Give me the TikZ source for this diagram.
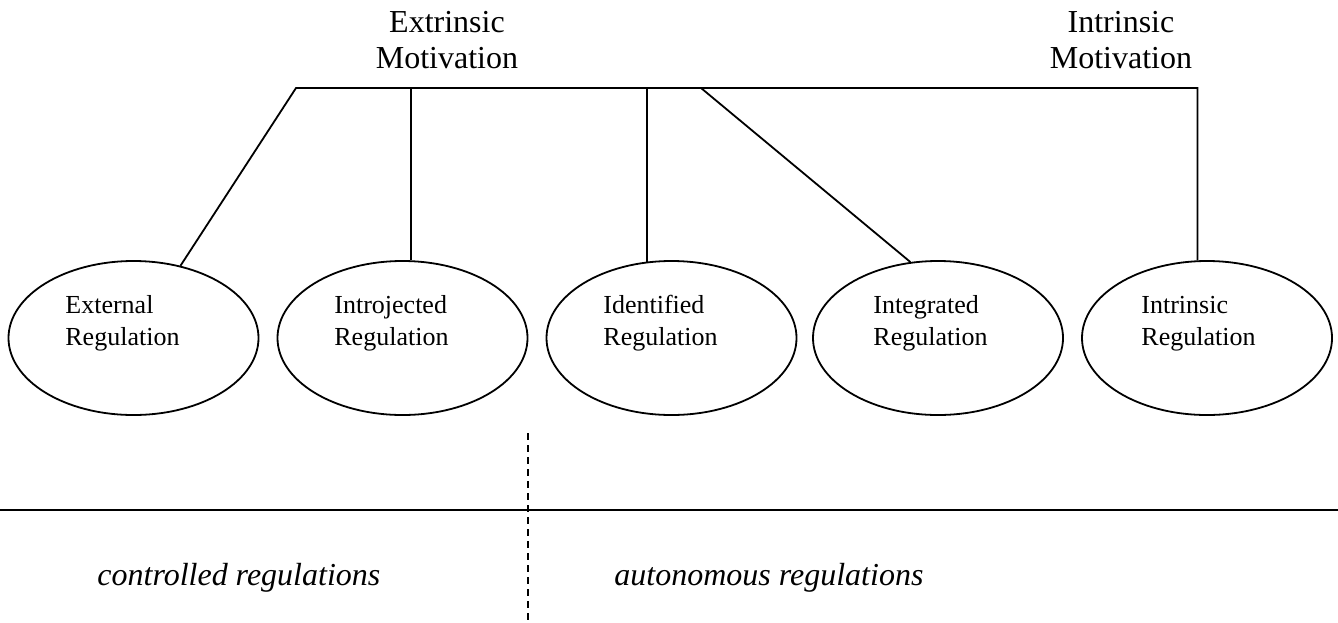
\documentclass[tikz,border=0pt]{standalone}
\usepackage{fontspec}
\setmainfont{Liberation Serif}
\usetikzlibrary{shapes.geometric}
\begin{document}
\begin{tikzpicture}[x=0.5pt,y=-0.5pt,
  regell/.style={draw, ellipse, line width=0.9pt, minimum width=125pt, minimum height=77pt, inner sep=0pt},
  regtext/.style={anchor=base west, align=left, inner sep=0pt, font=\fontsize{13}{16}\selectfont},
  headtext/.style={anchor=base, align=center, inner sep=0pt, font=\fontsize{16}{18}\selectfont},
  sidetext/.style={anchor=base west, inner sep=0pt, font=\fontsize{16}{19}\selectfont\itshape},
  link/.style={line width=0.9pt},
  divider/.style={line width=0.9pt, dash pattern=on 3.5pt off 2.5pt}]
\useasboundingbox (0,0) rectangle (1338,622);
% ellipses
\node[regell] (e1) at (133.5,338) {};
\node[regell] (e2) at (402.5,338) {};
\node[regell] (e3) at (671.5,338) {};
\node[regell] (e4) at (938,338) {};
\node[regell] (e5) at (1207,338) {};
% ellipse texts
\node[regtext] (l1) at (65,345) {External\\Regulation};
\node[regtext] (l2) at (334,345) {Introjected\\Regulation};
\node[regtext] (l3) at (603,345) {Identified\\Regulation};
\node[regtext] (l4) at (873,345) {Integrated\\Regulation};
\node[regtext] (l5) at (1141,345) {Intrinsic\\Regulation};
% headings
\node[headtext] (hx) at (447,68) {Extrinsic\\Motivation};
\node[headtext] (hi) at (1121,68) {Intrinsic\\Motivation};
% tree
\coordinate (t1) at (296,88);
\coordinate (t2) at (e2.84 |- t1);
\coordinate (t3) at (e3.108 |- t1);
\coordinate (t4) at (701,88);
\coordinate (t5) at (e5.97 |- t1);
\draw[link] (e1) -- (t1) -- (t5) -- (e5.97);
\draw[link] (t2) -- (e2.84);
\draw[link] (t3) -- (e3.108);
\draw[link] (t4) -- (e4.110);
% bottom
\coordinate (hl) at (0,510);
\coordinate (hr) at (1338,510);
\draw[link] (hl) -- (hr);
\coordinate (dt) at (528,433);
\coordinate (db) at (528,622);
\draw[divider] (dt) -- (db);
\node[sidetext] (cr) at (97,585) {controlled regulations};
\node[sidetext] (ar) at (614,585) {autonomous regulations};
\end{tikzpicture}
\end{document}
